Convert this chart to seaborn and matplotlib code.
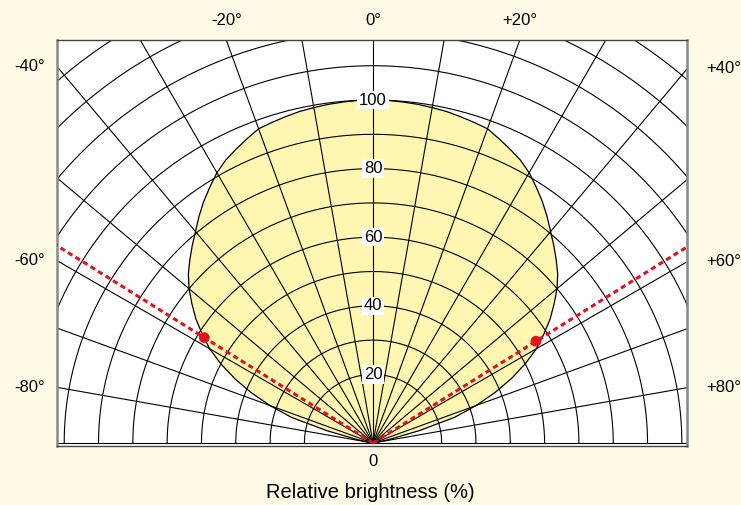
import numpy as np
import pandas as pd
import matplotlib
matplotlib.use("Agg")
import matplotlib.pyplot as plt
import seaborn as sns

# radiation pattern (angle in degrees, relative brightness in %)
angles = [-90, -85, -80, -77.5, -75, -72.5, -70, -67.5, -65, -62.5, -60, -57.5, -55, -52.5,
          -50, -47.5, -45, -42.5, -40, -37.5, -35, -32.5, -30, -27.5, -25, -22.5, -20, -17.5,
          -15, -12.5, -10, -7.5, -5, -2.5, 0, 2.5, 5, 7.5, 10, 12.5, 15, 17.5, 20, 22.5, 25,
          27.5, 30, 32.5, 35, 37.5, 40, 42.5, 45, 47.5, 50, 52.5, 55, 57.5, 60, 62.5, 65,
          67.5, 70, 72.5, 75, 77.5, 80, 85, 90]
brightness = [0, 0, 1, 5, 14, 25, 32, 38.5, 44.5, 50, 55, 59, 63, 66.5,
              70, 73, 75.5, 78, 80.5, 83.3, 86, 88.5, 91, 93, 94.5, 96, 97.5, 98,
              98.5, 99, 99.3, 99.6, 99.8, 100, 100, 100, 99.8, 99.6, 99.3, 99, 98.5, 98, 97.5, 96, 94.5,
              93, 91, 88.5, 86, 83.3, 80.5, 78, 75.5, 73, 70, 66.5, 63, 59, 55, 50, 44.5,
              38.5, 32, 25, 14, 5, 1, 0, 0]

# half-brightness angle markers
half_angles = [-58, 58]
half_values = [58, 56]

grid_angles = list(range(-90, 91, 10))
grid_radii = list(range(20, 151, 10))
radial_labels = [20, 40, 60, 80, 100]
angle_labels = [-80, -60, -40, -20, 0, 20, 40, 60, 80]

bg = "#FEFAE6"
yellow = "#FFF6B2"
red = "#E3101E"

sns.set_theme(style="white")
plt.rcParams["font.family"] = ["Liberation Sans", "DejaVu Sans"]
plt.rcParams["text.color"] = "black"

fig = plt.figure(figsize=(7.41, 5.05), dpi=100, facecolor=bg)
ax = fig.add_axes([57 / 741, 59 / 505, 630 / 741, 406 / 505])
ax.set_facecolor("white")
xmin, xmax = -92.1, 91.5
ymin, ymax = -0.87, 117.5
ax.set_xlim(xmin, xmax)
ax.set_ylim(ymin, ymax)
ax.set_xticks([])
ax.set_yticks([])

th = np.deg2rad(angles)
df = pd.DataFrame({"x": np.array(brightness) * np.sin(th), "y": np.array(brightness) * np.cos(th)})
ax.fill(df["x"], df["y"], color=yellow, zorder=1, lw=0)
sns.lineplot(data=df, x="x", y="y", sort=False, estimator=None, color="black", lw=0.9, ax=ax, zorder=3)

# polar grid
t = np.linspace(-np.pi / 2, np.pi / 2, 400)
for r in grid_radii:
    ax.plot(r * np.sin(t), r * np.cos(t), color="black", lw=0.8, zorder=2)
for a in grid_angles:
    ar = np.deg2rad(a)
    ax.plot([0, 250 * np.sin(ar)], [0, 250 * np.cos(ar)], color="black", lw=0.8, zorder=2)

# half-angle dashed lines and points
for a in half_angles:
    ar = np.deg2rad(a)
    ax.plot([0, 250 * np.sin(ar)], [0, 250 * np.cos(ar)], color=red, lw=2.2,
            ls=(0, (1.7, 1.2)), zorder=4)
hth = np.deg2rad(half_angles)
sns.scatterplot(x=np.array(half_values) * np.sin(hth), y=np.array(half_values) * np.cos(hth),
                color=red, s=60, edgecolor="none", ax=ax, zorder=5)
ax.set_xlabel("")
ax.set_ylabel("")

# radial labels
for r in radial_labels:
    ax.text(0, r, str(r), ha="center", va="center", fontsize=12, zorder=6,
            bbox=dict(boxstyle="square,pad=0.1", fc="white", ec="none"))
ax.annotate("0", xy=(0, ymin), xytext=(0, -11), textcoords="offset points",
            ha="center", va="center", fontsize=12, annotation_clip=False)

# angle labels on the frame
for a in angle_labels:
    ar = np.deg2rad(a)
    s, c = np.sin(ar), np.cos(ar)
    txt = "0°" if a == 0 else ("-%d°" % abs(a) if a < 0 else "+%d°" % a)
    if abs(s) * ymax <= (xmax if s > 0 else -xmin) * c:
        ax.annotate(txt, xy=(ymax * s / c, ymax), xytext=(0, 14), textcoords="offset points",
                    ha="center", va="center", fontsize=12, annotation_clip=False)
    elif s < 0:
        ax.annotate(txt, xy=(xmin, -xmin / -s * c), xytext=(-9, 0), textcoords="offset points",
                    ha="right", va="center", fontsize=12, annotation_clip=False)
    else:
        ax.annotate(txt, xy=(xmax, xmax / s * c), xytext=(14, 0), textcoords="offset points",
                    ha="left", va="center", fontsize=12, annotation_clip=False)

for side in ["left", "right"]:
    ax.spines[side].set_color("#888888")
    ax.spines[side].set_linewidth(1.8)
for side in ["top", "bottom"]:
    ax.spines[side].set_color("#444444")
    ax.spines[side].set_linewidth(1.0)

fig.text(370 / 741, 1 - 493 / 505, "Relative brightness (%)", ha="center", va="center", fontsize=14.5)

fig.savefig("out.png", dpi=100, facecolor=bg)
